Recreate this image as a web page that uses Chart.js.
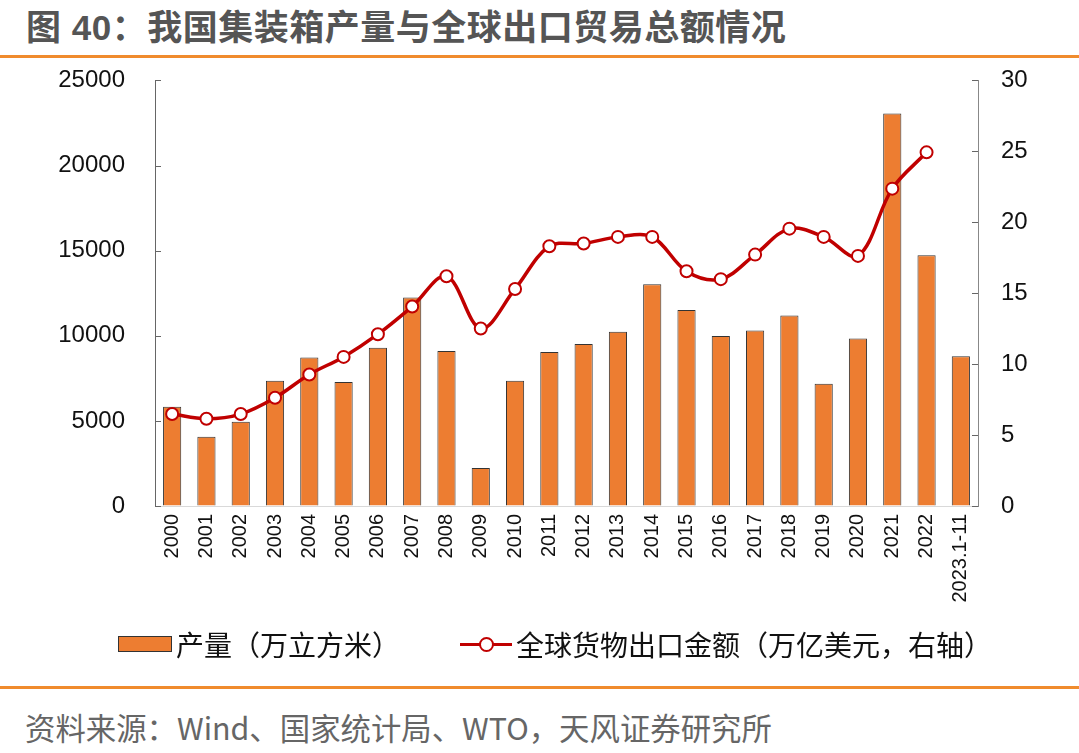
<!DOCTYPE html>
<html>
<head>
<meta charset="utf-8">
<script src="https://cdn.jsdelivr.net/npm/chart.js@4"></script>
<style>
  body { margin: 0; width: 1079px; height: 753px; background: #fff; position: relative; overflow: hidden;
         font-family: "Liberation Sans", "Noto Sans CJK SC", sans-serif; }
  #title { position: absolute; left: 26px; top: -1px; font: bold 35px "Liberation Sans", "Noto Sans CJK SC"; color: #555; letter-spacing: 0.5px; }
  .rule { position: absolute; left: 0; width: 1079px; height: 3px; background: #F08B2D; }
  #chartBox { position: absolute; left: 0; top: 36px; width: 1079px; height: 594px; }
  #legend { position: absolute; top: 624px; left: 0; width: 1079px; height: 40px; font: 28px "Noto Sans CJK SC"; color: #111; }
  .lg { position: absolute; top: 0; display: flex; align-items: center; height: 40px; }
  .swBar { width: 52px; height: 14px; background: #ED7D31; border: 1px solid #333; margin-right: 4px; }
  .swLine { position: relative; width: 52px; height: 16px; margin-right: 4px; }
  .swLine:before { content: ""; position: absolute; left: 0; right: 0; top: 7px; height: 3px; background: #C00000; }
  .swLine:after { content: ""; position: absolute; left: 19px; top: 1px; width: 11px; height: 11px; border: 2px solid #C00000; border-radius: 50%; background: #fff; }
  #source { position: absolute; left: 25px; top: 705px; font: 30.4px "Noto Sans CJK SC"; color: #666; }
</style>
</head>
<body>
<div id="title">图 40：我国集装箱产量与全球出口贸易总额情况</div>
<div class="rule" style="top:55px"></div>
<div id="chartBox"><canvas id="c"></canvas></div>
<div id="legend">
  <div class="lg" style="left:118px"><span class="swBar"></span><span>产量（万立方米）</span></div>
  <div class="lg" style="left:460px"><span class="swLine"></span><span>全球货物出口金额（万亿美元，右轴）</span></div>
</div>
<div class="rule" style="top:686px"></div>
<div id="source">资料来源：Wind、国家统计局、WTO，天风证券研究所</div>
<script>
const years = ['2000', '2001', '2002', '2003', '2004', '2005', '2006', '2007', '2008', '2009', '2010', '2011',
    '2012', '2013', '2014', '2015', '2016', '2017', '2018', '2019', '2020', '2021', '2022', '2023.1-11'];

// 产量（万立方米）
const output = [5830, 4070, 4950, 7350, 8730, 7280, 9290, 12250, 9110, 2230, 7350, 9040,
    9510, 10230, 13030, 11520, 9980, 10310, 11190, 7180, 9840, 23060, 14730, 8790];

// 全球货物出口金额（万亿美元）
const exportsTotal = [6.48, 6.15, 6.48, 7.63, 9.27, 10.51, 12.11, 14.06, 16.2, 12.51, 15.3, 18.31,
    18.5, 18.97, 18.97, 16.55, 15.99, 17.72, 19.55, 18.97, 17.63, 22.37, 24.93, null];

const leftTicks = [0, 5000, 10000, 15000, 20000, 25000];
const rightTicks = [0, 5, 10, 15, 20, 25, 30];

const tickFont = { family: 'Liberation Sans', size: 24 };

// tick marks point into the plot, like the original
const innerTicks = {
    id: 'innerTicks',
    afterDraw(chart) {
        const ctx = chart.ctx;
        ctx.save();
        ctx.strokeStyle = '#666';
        ctx.lineWidth = 1;
        [['y', 1], ['y1', -1]].forEach(([id, dir]) => {
            const s = chart.scales[id];
            const x0 = id === 'y' ? s.right : s.left;
            s.ticks.forEach(t => {
                const y = Math.round(s.getPixelForValue(t.value)) + 0.5;
                ctx.beginPath();
                ctx.moveTo(x0, y);
                ctx.lineTo(x0 + dir * 6, y);
                ctx.stroke();
            });
        });
        ctx.restore();
    }
};

new Chart(document.getElementById('c'), {
    data: {
        labels: years,
        datasets: [
            {
                type: 'line', label: '全球货物出口金额（万亿美元，右轴）', data: exportsTotal, yAxisID: 'y1', order: 0,
                borderColor: '#C00000', borderWidth: 3.5, tension: 0.35,
                pointRadius: 6, pointBorderWidth: 2, pointBackgroundColor: '#fff', pointBorderColor: '#C00000'
            },
            {
                type: 'bar', label: '产量（万立方米）', data: output, yAxisID: 'y', order: 1,
                backgroundColor: '#ED7D31', borderColor: '#333', borderWidth: 1,
                barPercentage: 0.53, categoryPercentage: 1
            }
        ]
    },
    options: {
        responsive: true, maintainAspectRatio: false, animation: false,
        layout: { padding: { top: 6, left: 0, right: 0, bottom: 0 } },
        plugins: { legend: { display: false }, tooltip: { enabled: false } },
        scales: {
            x: {
                offset: true,
                grid: { display: false, drawTicks: false },
                border: { color: '#d9d9d9', width: 1 },
                ticks: { color: '#111', font: { family: 'Liberation Sans', size: 20 }, minRotation: 90, maxRotation: 90, padding: 8, autoSkip: false },
                afterFit: s => { s.height = 124; }
            },
            y: {
                position: 'left', min: 0, max: 25000,
                afterBuildTicks: s => { s.ticks = leftTicks.map(v => ({ value: v })); },
                grid: { drawOnChartArea: false, drawTicks: false },
                border: { color: '#666', width: 1 },
                ticks: { color: '#111', font: tickFont, padding: 30, callback: v => String(v) },
                afterFit: s => { s.width = 155; }
            },
            y1: {
                position: 'right', min: 0, max: 30,
                afterBuildTicks: s => { s.ticks = rightTicks.map(v => ({ value: v })); },
                grid: { drawOnChartArea: false, drawTicks: false },
                border: { color: '#888', width: 1 },
                ticks: { color: '#111', font: tickFont, padding: 23, callback: v => String(v) },
                afterFit: s => { s.width = 101; }
            }
        }
    },
    plugins: [innerTicks]
});
</script>
</body>
</html>
